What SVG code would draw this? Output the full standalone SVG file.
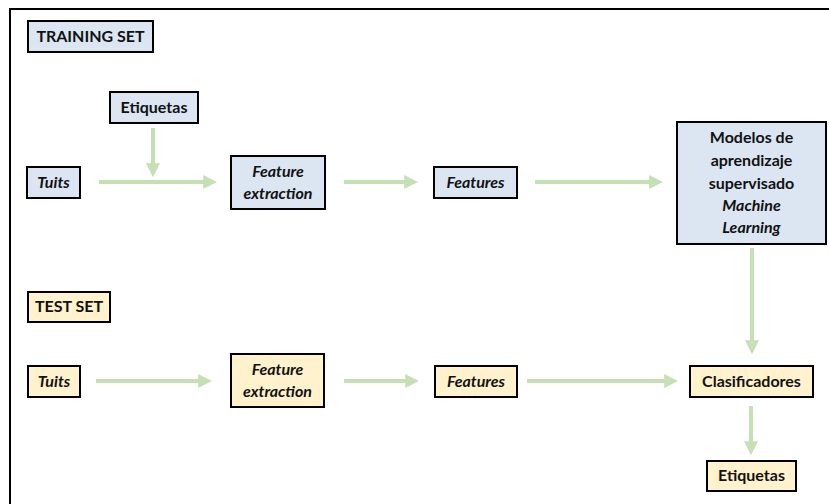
<svg xmlns="http://www.w3.org/2000/svg" width="829" height="504" viewBox="0 0 829 504">
<defs>
<style>
.b{fill:#dce6f2;stroke:#000;stroke-width:2}
.y{fill:#fff2cc;stroke:#000;stroke-width:2}
.t{font-family:Lato,"Open Sans",sans-serif;font-weight:bold;font-size:16px;fill:#111;text-anchor:middle}
.i{font-style:italic}
.c{stroke:#c5e0b4;stroke-width:4;fill:none;marker-end:url(#ah)}
</style>
<marker id="ah" viewBox="0 0 10 10" refX="2" refY="5" markerWidth="3.5" markerHeight="4.2" orient="auto" markerUnits="strokeWidth">
<path d="M0,0 L10,5 L0,10 z" fill="#c5e0b4"/>
</marker>
</defs>
<rect width="829" height="504" fill="#fff"/>
<path d="M10,504 V9 H829" fill="none" stroke="#000" stroke-width="2"/>
<g id="connectors">
<line class="c" x1="99" y1="182" x2="206" y2="182"/>
<line class="c" x1="153" y1="128" x2="153" y2="166"/>
<line class="c" x1="344" y1="182" x2="407" y2="182"/>
<line class="c" x1="535" y1="182" x2="652" y2="182"/>
<line class="c" x1="752" y1="248" x2="752" y2="343"/>
<line class="c" x1="96" y1="381" x2="201" y2="381"/>
<line class="c" x1="344" y1="381" x2="408" y2="381"/>
<line class="c" x1="527" y1="381" x2="667" y2="381"/>
<line class="c" x1="751" y1="406" x2="751" y2="444"/>
</g>
<g id="training-set"><rect class="b" x="28" y="21" width="125" height="31"/><text class="t" x="90.5" y="42">TRAINING SET</text></g>
<g id="etiquetas-train"><rect class="b" x="110" y="92" width="88" height="31"/><text class="t" x="154" y="113">Etiquetas</text></g>
<g id="tuits-train"><rect class="b" x="27" y="167" width="53" height="31"/><text class="t i" x="53.5" y="188">Tuits</text></g>
<g id="fe-train"><rect class="b" x="231" y="156" width="94" height="53"/><text class="t i" x="278" y="177">Feature</text><text class="t i" x="278" y="199">extraction</text></g>
<g id="features-train"><rect class="b" x="434" y="167" width="83" height="31"/><text class="t i" x="475.5" y="188">Features</text></g>
<g id="modelos"><rect class="b" x="677" y="122" width="149" height="122"/>
<text class="t" x="751.5" y="143">Modelos de</text>
<text class="t" x="751.5" y="166">aprendizaje</text>
<text class="t" x="751.5" y="189">supervisado</text>
<text class="t i" x="751.5" y="211">Machine</text>
<text class="t i" x="751.5" y="233">Learning</text></g>
<g id="test-set"><rect class="y" x="28" y="292" width="82" height="30"/><text class="t" x="69" y="312">TEST SET</text></g>
<g id="tuits-test"><rect class="y" x="28" y="366" width="52" height="31"/><text class="t i" x="54" y="387">Tuits</text></g>
<g id="fe-test"><rect class="y" x="231" y="354" width="93" height="53"/><text class="t i" x="277.5" y="375">Feature</text><text class="t i" x="277.5" y="397">extraction</text></g>
<g id="features-test"><rect class="y" x="435" y="366" width="82" height="31"/><text class="t i" x="476" y="387">Features</text></g>
<g id="clasificadores"><rect class="y" x="690" y="366" width="123" height="31"/><text class="t" x="751.5" y="387">Clasificadores</text></g>
<g id="etiquetas-test"><rect class="y" x="707" y="461" width="89" height="30"/><text class="t" x="751.5" y="481">Etiquetas</text></g>
</svg>
